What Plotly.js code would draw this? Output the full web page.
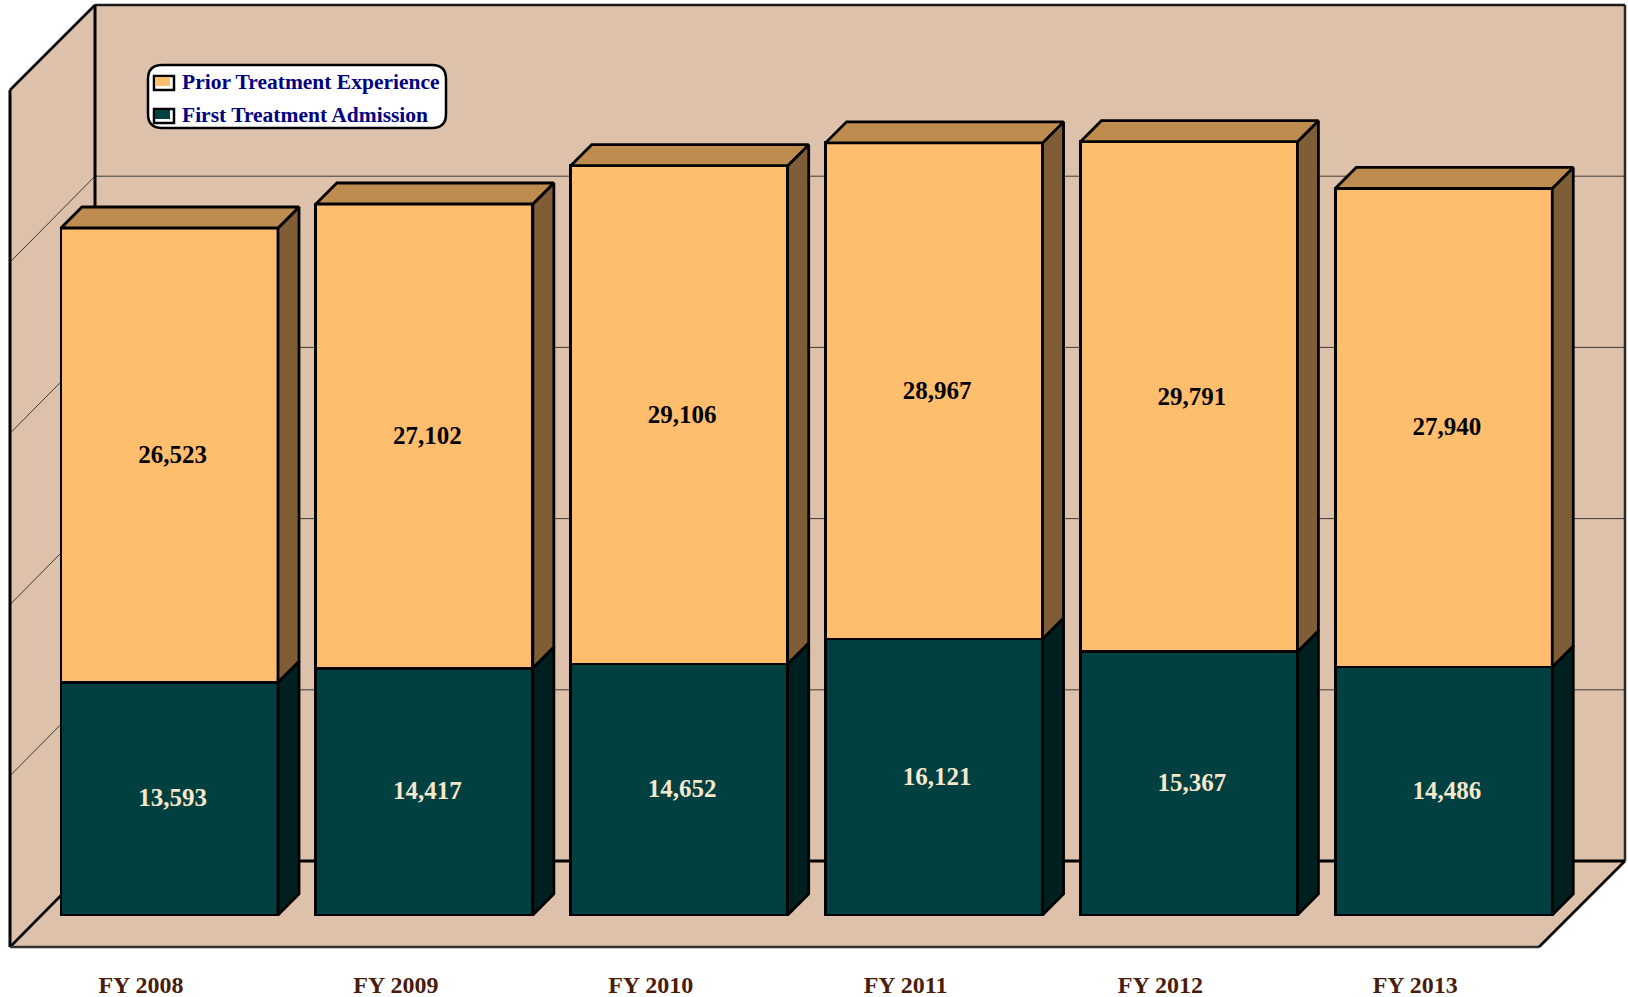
<!DOCTYPE html>
<html>
<head>
<meta charset="utf-8">
<script src="https://cdn.plot.ly/plotly-3.0.1.min.js"></script>
<style>html,body{margin:0;padding:0;background:#fff}#chart{width:1628px;height:997px}</style>
</head>
<body>
<div id="chart"></div>
<script>
const categories = ['FY 2008','FY 2009','FY 2010','FY 2011','FY 2012','FY 2013'];
const firstTreatment = [13593,14417,14652,16121,15367,14486];
const priorTreatment = [26523,27102,29106,28967,29791,27940];
const gridValues = [10000,20000,30000,40000];
const wallMax = 50000;

// ---- scale set-up (pixels per category / per unit on the front plane of the bars)
const W = 1628, H = 997, plotH = 959;
const catPx = 254.85, cat0Px = 169.5, unitPx = 0.017125, zeroPx = 915;
const pxX = p => (p - cat0Px) / catPx;
const pxY = p => (zeroPx - p) / unitPx;
const barWidth = 217 / catPx;
const depthX = 21 / catPx, depthY = 21 / unitPx;
const labelDx = 3 / catPx, labelDy = 1.5 / unitPx;

// ---- colours
const cWall='#DDC1AB', cOrange='#FFBD6E', cOrangeSide='#7F5E37', cTop='#BF8C50',
      cTeal='#004040', cTealSide='#002020', cEdge='#000000', edgeW=2.8;

const xs = categories.map((_, i) => i);
const tops = firstTreatment.map((v, i) => v + priorTreatment[i]);
const fmt = v => v.toLocaleString('en-US');

function polys(fn){
  const X=[],Y=[];
  xs.forEach(i=>{ fn(i).forEach(p=>{X.push(p[0]);Y.push(p[1]);}); X.push(null);Y.push(null); });
  return {x:X,y:Y};
}
const sideFace=(lo,hi)=>i=>{
  const r=i+barWidth/2;
  return [[r,lo(i)],[r+depthX,lo(i)+depthY],[r+depthX,hi(i)+depthY],[r,hi(i)],[r,lo(i)]];
};
const topFace=i=>{
  const l=i-barWidth/2,r=i+barWidth/2,t=tops[i];
  return [[l,t],[l+depthX,t+depthY],[r+depthX,t+depthY],[r,t],[l,t]];
};
const faceTrace=(pts,color)=>({type:'scatter',mode:'lines',x:pts.x,y:pts.y,fill:'toself',fillcolor:color,
  line:{color:cEdge,width:edgeW},hoverinfo:'skip',showlegend:false});
const labelFont=color=>({family:'Liberation Serif',size:25,color,weight:'bold'});

const traces=[
  {type:'bar',name:'First Treatment Admission',x:xs,y:firstTreatment,width:barWidth,
   legendgroup:'first',legendrank:2,marker:{color:cTeal,line:{color:cEdge,width:edgeW}}},
  {type:'bar',name:'Prior Treatment Experience',x:xs,y:priorTreatment,width:barWidth,
   legendgroup:'prior',legendrank:1,marker:{color:cOrange,line:{color:cEdge,width:edgeW}}},
  faceTrace(polys(sideFace(()=>0,i=>firstTreatment[i])),cTealSide),
  faceTrace(polys(sideFace(i=>firstTreatment[i],i=>tops[i])),cOrangeSide),
  faceTrace(polys(topFace),cTop),
  {type:'scatter',mode:'text',x:xs.map(i=>i+labelDx),y:firstTreatment.map(v=>v/2-labelDy),text:firstTreatment.map(fmt),
   textposition:'middle center',textfont:labelFont('#F6E8CC'),hoverinfo:'skip',showlegend:false},
  {type:'scatter',mode:'text',x:xs.map(i=>i+labelDx),y:priorTreatment.map((v,i)=>firstTreatment[i]+v/2-labelDy),text:priorTreatment.map(fmt),
   textposition:'middle center',textfont:labelFont('#000000'),hoverinfo:'skip',showlegend:false}
];

// ---- frame of the 3-D box
const pathOf=pts=>'M'+pts.map(p=>pxX(p[0])+','+pxY(p[1])).join('L')+'Z';
const lineOf=(a,b,color,width)=>({type:'line',layer:'below',xref:'x',yref:'y',x0:pxX(a[0]),y0:pxY(a[1]),x1:pxX(b[0]),y1:pxY(b[1]),line:{color,width}});
const BL=95,BR=1625,BT=5,BB=861,FL=10,FR=1539,FB=947,FT=90;
const wallPx=v=>BB-(v/wallMax)*(BB-BT);
const shapes=[
  {type:'path',layer:'below',path:pathOf([[FL,FB],[FR,FB],[BR,BB],[BL,BB]]),fillcolor:cWall,line:{width:0}},
  {type:'path',layer:'below',path:pathOf([[FL,FT],[BL,BT],[BL,BB],[FL,FB]]),fillcolor:cWall,line:{width:0}},
  {type:'path',layer:'below',path:pathOf([[BL,BT],[BR,BT],[BR,BB],[BL,BB]]),fillcolor:cWall,line:{width:0}}
];
gridValues.forEach(v=>{
  const y=wallPx(v);
  shapes.push(lineOf([BL,y],[BR,y],'#3a3a3a',1));
  shapes.push(lineOf([BL,y],[FL,y+86],'#3a3a3a',1));
});
shapes.push(
  lineOf([BL,BT],[BR,BT],'#1a1a1a',2.5),
  lineOf([BR,BT],[BR,BB],'#2a2a2a',2.5),
  lineOf([BL,BT],[BL,BB],'#000',3),
  lineOf([BL,BB],[BR,BB],'#000',3),
  lineOf([FL,FT],[BL,BT],'#000',2.6),
  lineOf([FL,FT],[FL,FB],'#000',3),
  lineOf([FL,FB],[BL,BB],'#000',2.6),
  lineOf([FL,FB],[FR,FB],'#333',2.5),
  lineOf([FR,FB],[BR,BB],'#000',2.6)
);
// rounded legend panel
(function(){
  const l=148,r=446,t=65,b=128,q=14;
  const P=(a,c)=>pxX(a)+','+pxY(c);
  shapes.push({type:'path',layer:'below',fillcolor:'#fff',line:{color:'#000',width:2.5},
    path:`M${P(l+q,t)}L${P(r-q,t)}Q${P(r,t)} ${P(r,t+q)}L${P(r,b-q)}Q${P(r,b)} ${P(r-q,b)}L${P(l+q,b)}Q${P(l,b)} ${P(l,b-q)}L${P(l,t+q)}Q${P(l,t)} ${P(l+q,t)}Z`});
})();

const layout={
  width:W,height:H,margin:{l:0,r:0,t:0,b:H-plotH,pad:0},
  paper_bgcolor:'#fff',plot_bgcolor:'rgba(0,0,0,0)',
  barmode:'stack',showlegend:true,
  xaxis:{range:[pxX(0),pxX(W)],tickmode:'array',tickvals:xs.map(i=>i-28.5/catPx),ticktext:categories,
    showgrid:false,zeroline:false,showline:false,ticks:'outside',ticklen:4,tickcolor:'rgba(0,0,0,0)',
    tickfont:{family:'Liberation Serif',size:24,color:'#4A1C0A',weight:'bold'},fixedrange:true},
  yaxis:{range:[pxY(plotH),pxY(0)],showgrid:false,zeroline:false,showline:false,showticklabels:false,ticks:'',fixedrange:true},
  legend:{x:142/W,y:1-60.5/plotH,xanchor:'left',yanchor:'top',bgcolor:'rgba(0,0,0,0)',borderwidth:0,
    traceorder:'grouped',tracegroupgap:2,itemwidth:30,itemclick:false,itemdoubleclick:false,
    font:{family:'Liberation Serif',size:21.5,color:'#000080',weight:'bold'}},
  shapes
};
function restyleSwatches(gd){
  // legend swatches: framed box with a white strip on the right and bottom, as in the reference
  gd.querySelectorAll('.legend .legendpoints path').forEach(p=>{
    if(p.dataset.done||!p.getAttribute('d')) return;
    const color=p.style.fill;
    p.dataset.done='1';
    p.setAttribute('d','M10,7H-10V-7H10Z');
    p.setAttribute('transform','translate(22,2)');
    p.style.fill='#fff';
    p.style.strokeWidth='2.5px';
    p.style.stroke='#000';
    const inner=p.cloneNode(false);
    inner.dataset.done='1';
    inner.setAttribute('d','M6,3H-9V-6H6Z');
    inner.style.fill=color;
    inner.style.stroke='none';
    p.parentNode.appendChild(inner);
  });
}
Plotly.newPlot('chart',traces,layout,{displayModeBar:false,responsive:false}).then(restyleSwatches);
</script>
</body>
</html>
